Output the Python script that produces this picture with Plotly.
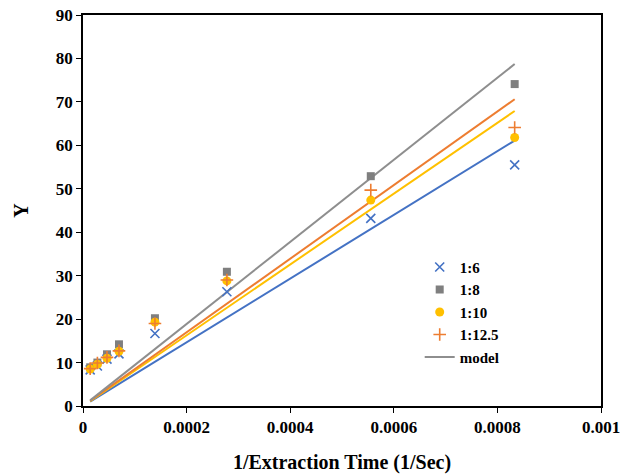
import plotly.graph_objects as go

# Inverse extraction times (1/s): 20 h, 10 h, 6 h, 4 h, 2 h, 1 h, 30 min, 20 min
inv_time = [1 / 72000, 1 / 36000, 1 / 21600, 1 / 14400, 1 / 7200, 1 / 3600, 1 / 1800, 1 / 1200]

ratio_labels = ["1:6", "1:8", "1:10", "1:12.5"]

y_1_6 = [8.3, 9.2, 10.8, 12.0, 16.7, 26.3, 43.2, 55.5]
y_1_8 = [8.9, 10.0, 11.9, 14.2, 20.2, 30.9, 52.9, 74.1]
y_1_10 = [8.5, 9.6, 11.0, 12.6, 19.3, 28.8, 47.4, 61.8]
y_1_12_5 = [8.6, 9.9, 11.2, 12.7, 19.0, 29.0, 49.7, 64.1]

# Straight model lines, given by their values at the first and last time
model_x = [1 / 72000, 1 / 1200]
model_1_6 = [1.0, 61.1]
model_1_8 = [1.3, 78.7]
model_1_10 = [1.1, 67.9]
model_1_12_5 = [1.2, 70.6]

x_ticks = [0, 0.0002, 0.0004, 0.0006, 0.0008, 0.001]
x_tick_text = ["0", "0.0002", "0.0004", "0.0006", "0.0008", "0.001"]
y_ticks = [0, 10, 20, 30, 40, 50, 60, 70, 80, 90]

BLUE = "#4472C4"
GREY = "#7F7F7F"
GOLD = "#FFC000"
ORANGE = "#ED7D31"
MODEL_GREY = "#8E8E8E"

FONT = "Liberation Serif"

fig = go.Figure()

# Model lines (drawn beneath the markers)
for vals, col, show in [
    (model_1_6, BLUE, False),
    (model_1_10, GOLD, False),
    (model_1_12_5, ORANGE, False),
    (model_1_8, MODEL_GREY, True),
]:
    fig.add_trace(go.Scatter(
        x=model_x, y=vals, mode="lines", name="model",
        line=dict(color=col, width=2), showlegend=show, legendrank=5,
    ))

marker_specs = [
    (y_1_6, ratio_labels[0], dict(symbol="x-thin", size=9, color=BLUE, line=dict(color=BLUE, width=1.6))),
    (y_1_8, ratio_labels[1], dict(symbol="square", size=8, color=GREY)),
    (y_1_10, ratio_labels[2], dict(symbol="circle", size=9, color=GOLD)),
    (y_1_12_5, ratio_labels[3], dict(symbol="cross-thin", size=9, color=ORANGE, line=dict(color=ORANGE, width=1.6))),
]
for rank, (vals, name, marker) in enumerate(marker_specs, start=1):
    fig.add_trace(go.Scatter(
        x=inv_time, y=vals, mode="markers", name=name, marker=marker, legendrank=rank,
    ))

axis_common = dict(
    showline=True, linecolor="black", linewidth=1.5, mirror=True,
    ticks="outside", ticklen=5, tickwidth=1.3, tickcolor="black",
    showgrid=False, zeroline=False, automargin=False,
    tickfont=dict(family=FONT, size=17, color="black", weight="bold"),
)

fig.update_layout(
    width=632, height=474,
    margin=dict(l=83, r=31, t=15, b=68),
    paper_bgcolor="white", plot_bgcolor="white",
    font=dict(family=FONT, color="black"),
    xaxis=dict(
        range=[0, 0.001], tickvals=x_ticks, ticktext=x_tick_text,
        title=dict(text="<b>1/Extraction Time (1/Sec)</b>", font=dict(family=FONT, size=20), standoff=24),
        **axis_common,
    ),
    yaxis=dict(
        range=[0, 90], tickvals=y_ticks,
        title=dict(text="<b>Y</b>", font=dict(family=FONT, size=20), standoff=22),
        **axis_common,
    ),
    legend=dict(
        x=0.65, y=0.397, xanchor="left", yanchor="top",
        bgcolor="rgba(0,0,0,0)", borderwidth=0,
        font=dict(family=FONT, size=15, color="black", weight="bold"),
        tracegroupgap=0, itemwidth=30,
    ),
)

fig.write_html("out.html")
